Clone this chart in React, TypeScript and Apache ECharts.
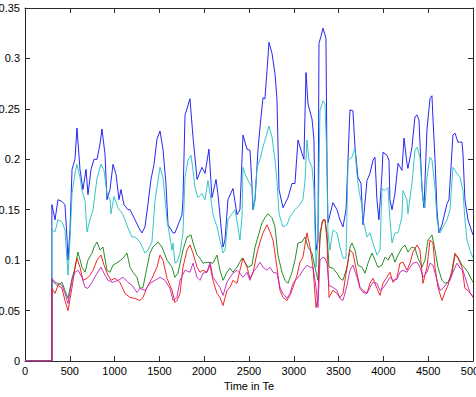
import React, { useEffect, useRef } from "react";
import * as echarts from "echarts";

// Each trace is a list of [time, value] samples.
const blueTrace: [number, number][] = [
  [0, 0], [300, 0], [300, 0.155], [335, 0.14], [368, 0.16], [413, 0.158], [446, 0.155], [470, 0.12], [480, 0.1], [502, 0.13],
  [525, 0.19], [558, 0.2], [580, 0.231], [614, 0.19], [647, 0.17], [681, 0.19], [703, 0.165], [737, 0.19], [770, 0.2], [804, 0.2],
  [837, 0.215], [859, 0.23], [893, 0.205], [915, 0.16], [949, 0.17], [982, 0.195], [1016, 0.185], [1049, 0.16], [1071, 0.17],
  [1105, 0.155], [1149, 0.15], [1172, 0.15], [1228, 0.14], [1283, 0.13], [1306, 0.127], [1339, 0.133], [1373, 0.156], [1406, 0.18],
  [1440, 0.195], [1473, 0.22], [1507, 0.228], [1540, 0.21], [1574, 0.175], [1596, 0.135], [1652, 0.127], [1674, 0.127], [1730, 0.14],
  [1752, 0.145], [1763, 0.16], [1786, 0.244], [1808, 0.25], [1841, 0.26], [1875, 0.222], [1920, 0.18], [1975, 0.192], [2009, 0.186],
  [2053, 0.21], [2087, 0.162], [2132, 0.18], [2154, 0.165], [2210, 0.113], [2232, 0.12], [2265, 0.16], [2321, 0.171], [2366, 0.145],
  [2399, 0.15], [2422, 0.2], [2433, 0.224], [2478, 0.21], [2511, 0.209], [2533, 0.175], [2544, 0.15], [2567, 0.16], [2600, 0.209],
  [2623, 0.232], [2656, 0.261], [2678, 0.26], [2701, 0.288], [2723, 0.316], [2757, 0.305], [2790, 0.285], [2812, 0.26], [2835, 0.17],
  [2879, 0.152], [2935, 0.162], [2980, 0.176], [3013, 0.176], [3047, 0.219], [3091, 0.206], [3113, 0.2], [3136, 0.286], [3158, 0.255],
  [3203, 0.24], [3225, 0.22], [3236, 0.15], [3248, 0.11], [3270, 0.12], [3281, 0.315], [3304, 0.322], [3326, 0.33], [3359, 0.32],
  [3370, 0.2], [3381, 0.137], [3437, 0.157], [3482, 0.15], [3515, 0.14], [3549, 0.133], [3583, 0.15], [3605, 0.2], [3627, 0.249],
  [3660, 0.248], [3683, 0.212], [3716, 0.182], [3750, 0.176], [3772, 0.135], [3817, 0.179], [3850, 0.186], [3884, 0.199],
  [3906, 0.202], [3928, 0.16], [3950, 0.14], [3984, 0.185], [3995, 0.207], [4040, 0.204], [4062, 0.199], [4073, 0.16], [4096, 0.15],
  [4129, 0.166], [4163, 0.196], [4207, 0.189], [4230, 0.221], [4263, 0.196], [4274, 0.191], [4319, 0.212], [4352, 0.242],
  [4375, 0.244], [4397, 0.239], [4431, 0.17], [4453, 0.152], [4486, 0.229], [4520, 0.26], [4542, 0.263], [4553, 0.241], [4576, 0.2],
  [4598, 0.15], [4620, 0.127], [4654, 0.135], [4710, 0.156], [4732, 0.16], [4776, 0.224], [4799, 0.226], [4832, 0.217],
  [4877, 0.217], [4888, 0.206], [4910, 0.16], [4944, 0.14], [4988, 0.128], [5000, 0.125],
];

const cyanTrace: [number, number][] = [
  [0, 0], [300, 0], [300, 0.13], [335, 0.128], [368, 0.14], [413, 0.138], [446, 0.13], [480, 0.085], [502, 0.12], [525, 0.166],
  [558, 0.186], [580, 0.195], [614, 0.182], [636, 0.169], [670, 0.159], [692, 0.128], [725, 0.14], [759, 0.15], [804, 0.181],
  [848, 0.195], [882, 0.189], [915, 0.166], [949, 0.16], [960, 0.146], [993, 0.163], [1038, 0.152], [1094, 0.145], [1149, 0.132],
  [1194, 0.123], [1228, 0.123], [1283, 0.118], [1339, 0.107], [1373, 0.11], [1417, 0.118], [1451, 0.159], [1507, 0.192],
  [1540, 0.182], [1585, 0.14], [1641, 0.11], [1652, 0.117], [1674, 0.097], [1696, 0.098], [1730, 0.107], [1763, 0.127],
  [1786, 0.182], [1819, 0.199], [1853, 0.204], [1875, 0.189], [1897, 0.172], [1931, 0.162], [1975, 0.166], [2009, 0.16],
  [2042, 0.179], [2076, 0.16], [2098, 0.145], [2143, 0.133], [2176, 0.12], [2210, 0.107], [2232, 0.11], [2265, 0.14],
  [2310, 0.146], [2344, 0.15], [2377, 0.133], [2399, 0.12], [2422, 0.143], [2433, 0.192], [2455, 0.186], [2489, 0.179],
  [2533, 0.172], [2550, 0.15], [2567, 0.16], [2589, 0.192], [2623, 0.2], [2656, 0.212], [2701, 0.226], [2723, 0.233],
  [2757, 0.222], [2790, 0.199], [2812, 0.179], [2835, 0.146], [2879, 0.133], [2924, 0.135], [2957, 0.143], [3013, 0.15],
  [3069, 0.155], [3102, 0.16], [3125, 0.179], [3147, 0.219], [3169, 0.199], [3203, 0.192], [3225, 0.17], [3248, 0.093],
  [3270, 0.12], [3292, 0.248], [3326, 0.258], [3348, 0.255], [3370, 0.2], [3381, 0.127], [3404, 0.11], [3437, 0.13],
  [3482, 0.127], [3515, 0.113], [3549, 0.102], [3583, 0.102], [3605, 0.199], [3649, 0.202], [3683, 0.211], [3705, 0.185],
  [3727, 0.169], [3761, 0.154], [3772, 0.14], [3817, 0.123], [3850, 0.127], [3884, 0.117], [3928, 0.105], [3962, 0.11],
  [3984, 0.171], [4018, 0.169], [4051, 0.172], [4073, 0.14], [4096, 0.117], [4129, 0.127], [4163, 0.127], [4207, 0.143],
  [4218, 0.169], [4263, 0.16], [4274, 0.146], [4319, 0.176], [4352, 0.209], [4375, 0.212], [4408, 0.202], [4442, 0.16],
  [4464, 0.152], [4486, 0.182], [4520, 0.202], [4542, 0.199], [4576, 0.172], [4598, 0.14], [4632, 0.127], [4665, 0.133],
  [4710, 0.14], [4743, 0.15], [4776, 0.192], [4821, 0.186], [4855, 0.182], [4888, 0.169], [4910, 0.14], [4933, 0.12],
  [4966, 0.11], [5000, 0.102],
];

const greenTrace: [number, number][] = [
  [0, 0], [300, 0], [300, 0.08], [357, 0.075], [413, 0.078], [446, 0.07], [480, 0.062], [525, 0.082], [558, 0.092], [591, 0.108],
  [636, 0.093], [670, 0.088], [703, 0.1], [748, 0.107], [770, 0.113], [804, 0.118], [837, 0.11], [870, 0.113], [915, 0.09],
  [949, 0.088], [982, 0.095], [1038, 0.098], [1094, 0.102], [1138, 0.107], [1172, 0.093], [1205, 0.088], [1250, 0.083],
  [1283, 0.072], [1317, 0.073], [1362, 0.093], [1395, 0.107], [1428, 0.113], [1484, 0.118], [1529, 0.113], [1585, 0.1],
  [1641, 0.093], [1674, 0.083], [1707, 0.087], [1763, 0.11], [1808, 0.123], [1853, 0.125], [1875, 0.117], [1920, 0.105],
  [1953, 0.102], [1986, 0.097], [2042, 0.098], [2098, 0.097], [2143, 0.105], [2176, 0.09], [2210, 0.08], [2254, 0.088],
  [2288, 0.092], [2321, 0.088], [2366, 0.093], [2422, 0.102], [2455, 0.098], [2489, 0.093], [2533, 0.095], [2567, 0.113],
  [2600, 0.123], [2645, 0.137], [2678, 0.142], [2712, 0.146], [2757, 0.142], [2790, 0.133], [2823, 0.105], [2868, 0.088],
  [2902, 0.08], [2935, 0.077], [2980, 0.088], [3013, 0.1], [3047, 0.117], [3091, 0.118], [3125, 0.123], [3158, 0.113],
  [3203, 0.107], [3236, 0.093], [3270, 0.08], [3292, 0.12], [3315, 0.138], [3348, 0.14], [3370, 0.127], [3393, 0.093],
  [3437, 0.092], [3482, 0.087], [3515, 0.082], [3549, 0.08], [3594, 0.093], [3627, 0.113], [3649, 0.117], [3683, 0.11],
  [3716, 0.095], [3761, 0.093], [3794, 0.087], [3828, 0.097], [3873, 0.107], [3906, 0.1], [3939, 0.093], [3984, 0.095],
  [4018, 0.103], [4051, 0.1], [4096, 0.107], [4129, 0.098], [4163, 0.105], [4207, 0.112], [4241, 0.115], [4274, 0.108],
  [4319, 0.113], [4352, 0.112], [4386, 0.102], [4431, 0.093], [4464, 0.1], [4498, 0.12], [4542, 0.125], [4576, 0.11],
  [4609, 0.093], [4654, 0.08], [4687, 0.077], [4721, 0.078], [4765, 0.087], [4799, 0.105], [4832, 0.103], [4877, 0.095],
  [4910, 0.092], [4944, 0.088], [4988, 0.08], [5000, 0.078],
];

const redTrace: [number, number][] = [
  [0, 0], [300, 0], [300, 0.072], [335, 0.067], [368, 0.075], [413, 0.072], [446, 0.06], [480, 0.05], [525, 0.073], [558, 0.093],
  [580, 0.102], [614, 0.093], [647, 0.08], [692, 0.082], [725, 0.085], [759, 0.09], [804, 0.1], [848, 0.105], [882, 0.095],
  [926, 0.085], [960, 0.08], [1004, 0.082], [1060, 0.078], [1116, 0.067], [1172, 0.063], [1228, 0.062], [1283, 0.06],
  [1317, 0.063], [1362, 0.073], [1417, 0.082], [1473, 0.093], [1507, 0.105], [1540, 0.1], [1585, 0.082], [1641, 0.07],
  [1674, 0.058], [1696, 0.06], [1730, 0.067], [1763, 0.093], [1808, 0.11], [1841, 0.115], [1875, 0.107], [1920, 0.093],
  [1953, 0.088], [1986, 0.09], [2031, 0.088], [2065, 0.095], [2098, 0.08], [2143, 0.067], [2176, 0.063], [2210, 0.055],
  [2254, 0.07], [2288, 0.073], [2321, 0.08], [2366, 0.077], [2399, 0.09], [2433, 0.102], [2478, 0.093], [2511, 0.082],
  [2544, 0.087], [2589, 0.107], [2623, 0.118], [2656, 0.127], [2701, 0.135], [2734, 0.128], [2768, 0.12], [2812, 0.093],
  [2846, 0.07], [2879, 0.063], [2924, 0.06], [2957, 0.065], [2991, 0.073], [3036, 0.085], [3069, 0.098], [3102, 0.103],
  [3147, 0.127], [3181, 0.113], [3214, 0.093], [3248, 0.053], [3270, 0.063], [3292, 0.127], [3326, 0.14], [3348, 0.14],
  [3370, 0.12], [3393, 0.063], [3437, 0.07], [3482, 0.067], [3515, 0.063], [3549, 0.067], [3594, 0.093], [3627, 0.11],
  [3660, 0.107], [3705, 0.087], [3739, 0.073], [3772, 0.07], [3817, 0.067], [3850, 0.077], [3884, 0.082], [3928, 0.072],
  [3962, 0.065], [3995, 0.077], [4040, 0.083], [4073, 0.088], [4107, 0.078], [4152, 0.083], [4185, 0.097], [4218, 0.098],
  [4263, 0.09], [4297, 0.097], [4330, 0.108], [4375, 0.115], [4408, 0.11], [4442, 0.077], [4486, 0.093], [4520, 0.12],
  [4553, 0.117], [4576, 0.093], [4609, 0.073], [4654, 0.06], [4687, 0.068], [4721, 0.075], [4765, 0.09], [4799, 0.107],
  [4832, 0.102], [4877, 0.093], [4910, 0.072], [4944, 0.07], [4988, 0.065], [5000, 0.063],
];

const magentaTrace: [number, number][] = [
  [0, 0], [300, 0], [300, 0.082], [335, 0.078], [368, 0.077], [413, 0.075], [446, 0.067], [480, 0.057], [525, 0.08], [558, 0.088],
  [591, 0.09], [636, 0.083], [670, 0.073], [703, 0.072], [748, 0.078], [804, 0.087], [848, 0.093], [893, 0.085], [926, 0.08],
  [982, 0.078], [1038, 0.08], [1094, 0.083], [1149, 0.078], [1194, 0.075], [1250, 0.068], [1283, 0.072], [1339, 0.07],
  [1395, 0.077], [1451, 0.08], [1507, 0.083], [1562, 0.08], [1618, 0.072], [1652, 0.06], [1696, 0.063], [1730, 0.08],
  [1786, 0.09], [1841, 0.088], [1875, 0.097], [1920, 0.083], [1953, 0.08], [1986, 0.087], [2031, 0.088], [2065, 0.098],
  [2098, 0.083], [2143, 0.077], [2176, 0.073], [2210, 0.065], [2254, 0.078], [2288, 0.083], [2321, 0.087], [2366, 0.09],
  [2399, 0.087], [2433, 0.083], [2478, 0.088], [2511, 0.08], [2544, 0.088], [2589, 0.093], [2623, 0.098], [2656, 0.093],
  [2701, 0.09], [2734, 0.093], [2768, 0.088], [2812, 0.087], [2846, 0.073], [2879, 0.067], [2924, 0.062], [2957, 0.067],
  [2991, 0.077], [3036, 0.082], [3069, 0.085], [3102, 0.09], [3147, 0.095], [3181, 0.093], [3214, 0.093], [3248, 0.073],
  [3270, 0.053], [3292, 0.1], [3326, 0.103], [3348, 0.102], [3370, 0.097], [3393, 0.075], [3437, 0.073], [3482, 0.07],
  [3515, 0.062], [3549, 0.06], [3594, 0.075], [3627, 0.09], [3660, 0.095], [3705, 0.083], [3739, 0.072], [3772, 0.068],
  [3817, 0.067], [3850, 0.073], [3884, 0.078], [3928, 0.077], [3962, 0.07], [3995, 0.072], [4040, 0.078], [4073, 0.083],
  [4107, 0.08], [4152, 0.081], [4185, 0.088], [4218, 0.09], [4263, 0.088], [4297, 0.093], [4330, 0.097], [4375, 0.098],
  [4408, 0.093], [4442, 0.083], [4486, 0.088], [4520, 0.097], [4553, 0.095], [4598, 0.08], [4632, 0.07], [4665, 0.072],
  [4710, 0.077], [4743, 0.08], [4776, 0.088], [4821, 0.097], [4855, 0.092], [4888, 0.09], [4933, 0.077], [4966, 0.068],
  [5000, 0.063],
];

const traces: { name: string; color: string; data: [number, number][] }[] = [
  { name: "b", color: "#1010ee", data: blueTrace },
  { name: "c", color: "#20c0c0", data: cyanTrace },
  { name: "g", color: "#108010", data: greenTrace },
  { name: "r", color: "#f01010", data: redTrace },
  { name: "m", color: "#c020c0", data: magentaTrace },
];

const xAxisTitle = "Time in Te";
const X_MAX = 5000;
const X_STEP = 500;
const Y_MAX = 0.35;
const Y_STEP = 0.05;

const FONT = "'Liberation Sans', Arial, Helvetica, sans-serif";
const AXIS_COLOR = "#2a2a2a";

const plain = (v: number) => String(Math.round(v * 1000) / 1000);

export default function App() {
  const ref = useRef<HTMLDivElement>(null);

  useEffect(() => {
    if (!ref.current) return;
    const chart = echarts.init(ref.current, null, { renderer: "svg" });

    const tick = { show: true, inside: true, length: 5, lineStyle: { color: AXIS_COLOR, width: 1 } };
    const line = { show: true, lineStyle: { color: AXIS_COLOR, width: 1 } };
    const label = { color: "#000", fontSize: 11, fontFamily: FONT, formatter: plain };

    chart.setOption({
      animation: false,
      backgroundColor: "#fff",
      grid: { left: 25, right: 3, top: 8, bottom: 36, containLabel: false, outerBoundsMode: "none" },
      xAxis: [
        {
          type: "value",
          min: 0,
          max: X_MAX,
          interval: X_STEP,
          position: "bottom",
          axisLine: { ...line, onZero: false },
          axisTick: tick,
          splitLine: { show: false },
          axisLabel: { ...label, margin: 4, hideOverlap: false },
          name: xAxisTitle,
          nameLocation: "middle",
          nameGap: 19,
          nameTextStyle: { color: "#000", fontSize: 11, fontFamily: FONT },
        },
        {
          type: "value",
          min: 0,
          max: X_MAX,
          interval: X_STEP,
          position: "top",
          axisLine: { ...line, onZero: false },
          axisTick: tick,
          splitLine: { show: false },
          axisLabel: { show: false },
        },
      ],
      yAxis: [
        {
          type: "value",
          min: 0,
          max: Y_MAX,
          interval: Y_STEP,
          position: "left",
          axisLine: { ...line, onZero: false },
          axisTick: tick,
          splitLine: { show: false },
          axisLabel: { ...label, margin: 5 },
        },
        {
          type: "value",
          min: 0,
          max: Y_MAX,
          interval: Y_STEP,
          position: "right",
          axisLine: { ...line, onZero: false },
          axisTick: tick,
          splitLine: { show: false },
          axisLabel: { show: false },
        },
      ],
      series: traces.map((t) => ({
        name: t.name,
        type: "line",
        xAxisIndex: 0,
        yAxisIndex: 0,
        data: t.data,
        showSymbol: false,
        symbol: "none",
        clip: true,
        lineStyle: { color: t.color, width: 0.9 },
        itemStyle: { color: t.color },
      })),
    });

    return () => chart.dispose();
  }, []);

  return (
    <div
      ref={ref}
      style={{ position: "fixed", left: 0, top: 0, width: 476, height: 397, background: "#fff" }}
    />
  );
}
